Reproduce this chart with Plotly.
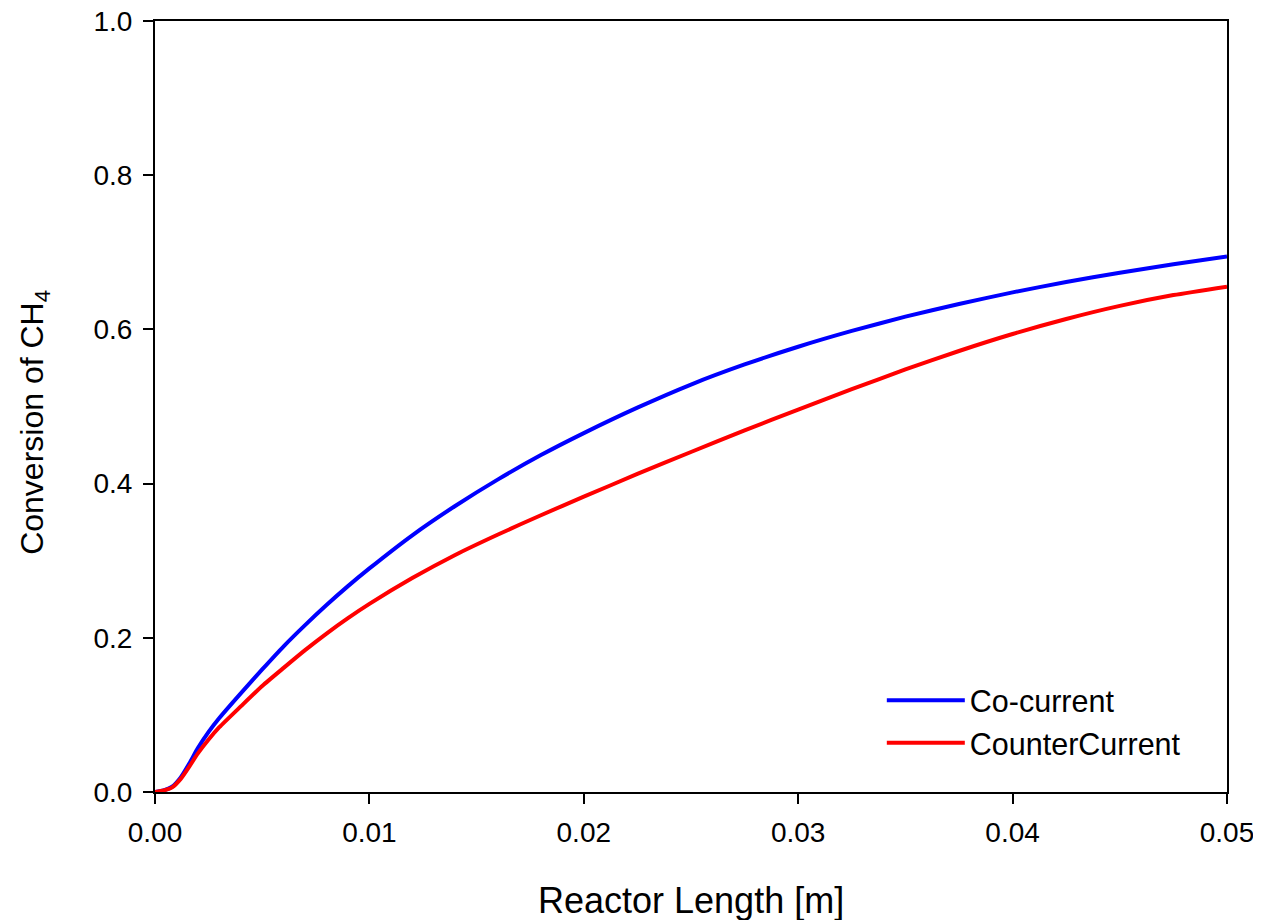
import plotly.graph_objects as go

x_len = [0.0, 0.0004, 0.0008, 0.0012, 0.0016, 0.002, 0.0025, 0.003, 0.004, 0.005,
         0.006, 0.007, 0.008, 0.009, 0.010, 0.012, 0.014, 0.016, 0.018, 0.020,
         0.0225, 0.025, 0.0275, 0.030, 0.0325, 0.035, 0.0375, 0.040, 0.0425, 0.045,
         0.0475, 0.050]

co_current = [0.0, 0.002, 0.007, 0.019, 0.037, 0.057, 0.078, 0.096, 0.128, 0.159,
              0.189, 0.2165, 0.2425, 0.267, 0.290, 0.333, 0.371, 0.4055, 0.437, 0.4655,
              0.4985, 0.5285, 0.5545, 0.5775, 0.598, 0.6165, 0.633, 0.648, 0.6615, 0.6735,
              0.6845, 0.6945]

counter_current = [0.0, 0.002, 0.006, 0.017, 0.033, 0.050, 0.068, 0.084, 0.111, 0.1375,
                   0.161, 0.184, 0.2055, 0.2255, 0.244, 0.2775, 0.3075, 0.334, 0.359, 0.383,
                   0.4125, 0.441, 0.469, 0.496, 0.5225, 0.548, 0.572, 0.594, 0.6135, 0.6305,
                   0.6445, 0.6555]

x_ticks = [0.0, 0.01, 0.02, 0.03, 0.04, 0.05]
y_ticks = [0.0, 0.2, 0.4, 0.6, 0.8, 1.0]

x_title = "Reactor Length [m]"
y_title = "Conversion of CH<sub>4</sub>"

fig = go.Figure()
fig.add_trace(go.Scatter(x=x_len, y=co_current, mode="lines", name="Co-current",
                         line=dict(color="#0000ff", width=4, shape="spline", smoothing=0.6)))
fig.add_trace(go.Scatter(x=x_len, y=counter_current, mode="lines", name="CounterCurrent",
                         line=dict(color="#ff0000", width=4, shape="spline", smoothing=0.6)))

font_family = "Liberation Sans, Arial, sans-serif"
fig.update_layout(
    width=1253, height=912,
    margin=dict(l=147, r=34, t=13, b=128),
    paper_bgcolor="white", plot_bgcolor="white",
    font=dict(family=font_family, size=28, color="black"),
    showlegend=True,
    legend=dict(x=0.678, y=0.091, xanchor="left", yanchor="middle",
                bgcolor="rgba(0,0,0,0)", font=dict(size=30.5), tracegroupgap=0,
                itemwidth=78),
    xaxis=dict(range=[0, 0.05], tickvals=x_ticks, tickformat=".2f", automargin=False,
               ticklabeloverflow="allow",
               showgrid=False, zeroline=False, showline=True, linecolor="black",
               linewidth=2, mirror=True, ticks="outside", ticklen=10, tickwidth=2,
               tickcolor="black", tickfont=dict(size=28), ticklabelstandoff=4),
    yaxis=dict(range=[0, 1.0], tickvals=y_ticks, tickformat=".1f", automargin=False,
               ticklabeloverflow="allow",
               showgrid=False, zeroline=False, showline=True, linecolor="black",
               linewidth=2, mirror=True, ticks="outside", ticklen=10, tickwidth=2,
               tickcolor="black", tickfont=dict(size=28), ticklabelstandoff=5),
    annotations=[
        dict(text=x_title, xref="paper", yref="paper", x=0.5, y=-0.1401,
             xanchor="center", yanchor="middle", showarrow=False,
             font=dict(size=36)),
        dict(text=y_title, xref="paper", yref="paper", x=-0.112, y=0.48,
             xanchor="center", yanchor="middle", showarrow=False, textangle=-90,
             font=dict(size=32)),
    ],
)

fig.write_html("out.html")
